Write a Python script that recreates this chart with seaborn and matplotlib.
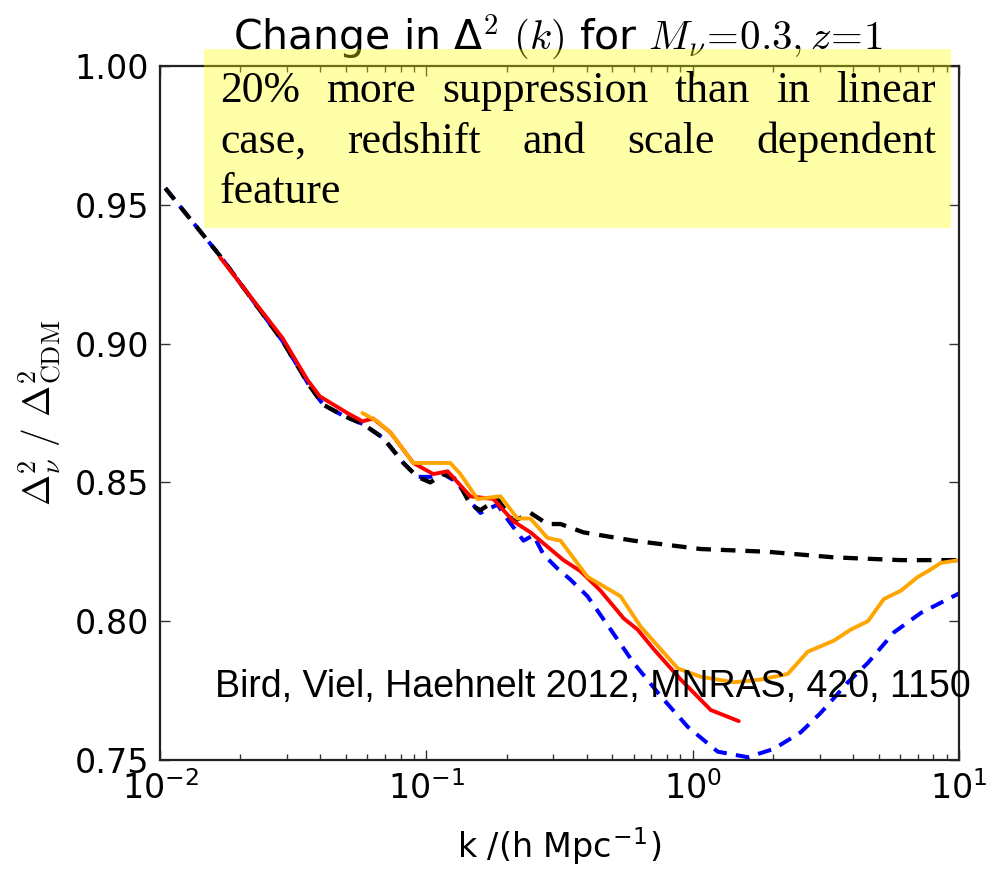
import matplotlib
matplotlib.use("Agg")
import matplotlib.pyplot as plt
import seaborn as sns
import pandas as pd
from matplotlib.patches import Rectangle
from matplotlib.ticker import FixedLocator, FormatStrFormatter

# ---------------- data ----------------
k_black = [0.01047, 0.0170, 0.0288, 0.0363, 0.0410, 0.0488, 0.0579, 0.0689, 0.0820,
           0.0925, 0.1035, 0.1159, 0.1306, 0.1462, 0.1596, 0.1849, 0.2123, 0.2460,
           0.2851, 0.3192, 0.389, 0.600, 1.072, 1.914, 3.39, 6.05, 10.0]
r_black = [0.956, 0.931, 0.901, 0.885, 0.878, 0.874, 0.871, 0.866, 0.857,
           0.852, 0.850, 0.853, 0.851, 0.842, 0.840, 0.844, 0.836, 0.839,
           0.835, 0.835, 0.832, 0.829, 0.826, 0.825, 0.823, 0.822, 0.822]

k_blue = [0.01047, 0.0170, 0.0288, 0.0363, 0.0410, 0.0488, 0.0579, 0.0689, 0.0820,
          0.0925, 0.1035, 0.1159, 0.1306, 0.1462, 0.1596, 0.1849, 0.2042, 0.2317,
          0.2523, 0.2754, 0.3105, 0.3475, 0.4027, 0.4920, 0.600, 0.7586, 0.9572,
          1.2417, 1.6106, 2.018, 2.547, 3.027, 3.828, 4.550, 5.702, 7.194, 10.0]
r_blue = [0.956, 0.931, 0.901, 0.885, 0.878, 0.874, 0.871, 0.866, 0.857,
          0.852, 0.852, 0.853, 0.850, 0.843, 0.839, 0.842, 0.836, 0.829,
          0.831, 0.824, 0.819, 0.815, 0.809, 0.797, 0.785, 0.773, 0.762,
          0.753, 0.751, 0.754, 0.760, 0.767, 0.778, 0.785, 0.796, 0.803, 0.810]

k_red = [0.01683, 0.02884, 0.03573, 0.03981, 0.05047, 0.05754, 0.0631, 0.07328,
         0.08933, 0.1062, 0.1202, 0.1462, 0.1786, 0.2123, 0.2460, 0.3273, 0.3793,
         0.4508, 0.5508, 0.6209, 0.7129, 0.9016, 1.1695, 1.4894]
r_red = [0.931, 0.902, 0.887, 0.881, 0.875, 0.872, 0.873, 0.868,
         0.857, 0.853, 0.854, 0.845, 0.844, 0.836, 0.832, 0.822, 0.818,
         0.811, 0.801, 0.797, 0.790, 0.779, 0.768, 0.764]

k_orange = [0.05754, 0.06546, 0.07328, 0.08933, 0.1230, 0.1343, 0.1556, 0.1897,
            0.2198, 0.2460, 0.2851, 0.3192, 0.4027, 0.5358, 0.6383, 0.8790, 1.0715,
            1.4256, 1.8030, 2.2751, 2.7040, 3.3884, 3.9264, 4.5499, 5.2240, 6.0534,
            7.0146, 7.6384, 8.5507, 10.0]
r_orange = [0.875, 0.872, 0.868, 0.857, 0.857, 0.853, 0.844, 0.845,
            0.837, 0.837, 0.830, 0.829, 0.816, 0.809, 0.798, 0.783, 0.780,
            0.778, 0.779, 0.781, 0.789, 0.793, 0.797, 0.800, 0.808, 0.811,
            0.816, 0.818, 0.821, 0.822]

y_ticks = [0.75, 0.80, 0.85, 0.90, 0.95, 1.00]
x_ticks = [0.01, 0.1, 1.0, 10.0]

title_text = "Change in Δ$^2$ $(k)$ for $M_\\nu\\!=\\!0.3,z\\!=\\!1$"
box_lines = ["20% more suppression than in linear",
             "case, redshift and scale dependent",
             "feature"]
cite_text = "Bird, Viel, Haehnelt 2012, MNRAS, 420, 1150"
x_label = "k /(h Mpc$^{\\mathdefault{-1}}$)"
y_label = "$\\Delta^2_\\nu\\ /\\ \\Delta^2_{\\rm CDM}$"

# ---------------- style ----------------
sns.set_style("ticks")
plt.rcParams['font.family'] = ['DejaVu Sans']
plt.rcParams['mathtext.fontset'] = 'cm'
for key in ["text.color", "axes.labelcolor", "xtick.color", "ytick.color",
            "axes.edgecolor"]:
    plt.rcParams[key] = "black"

fig = plt.figure(figsize=(10.06, 8.71), dpi=100)
ax = fig.add_axes([0.15905, 0.12744, 0.79423, 0.79679])

series = [
    (k_blue, r_blue, "#0000ff", 2.9, (3.4, 2.3)),
    (k_black, r_black, "#000000", 3.1, (3.4, 2.3)),
    (k_red, r_red, "#ff0000", 2.8, None),
    (k_orange, r_orange, "#ffa500", 2.8, None),
]
for kk, rr, col, lw, dash in series:
    df = pd.DataFrame({"k": kk, "r": rr})
    sns.lineplot(data=df, x="k", y="r", ax=ax, color=col, lw=lw,
                 sort=False, estimator=None, legend=False)
    ln = ax.lines[-1]
    if dash is not None:
        ln.set_linestyle((0, dash))

ax.set_xscale("log")
ax.set_xlim(0.01, 10.0)
ax.set_ylim(0.75, 1.00)
ax.yaxis.set_major_locator(FixedLocator(y_ticks))
ax.yaxis.set_major_formatter(FormatStrFormatter("%.2f"))
ax.xaxis.set_major_locator(FixedLocator(x_ticks))

ax.tick_params(which="both", direction="in", top=True, right=True,
               labelsize=24, width=1.0, color="#333333", labelcolor="black")
ax.tick_params(which="major", length=7, pad=8)
ax.tick_params(which="minor", length=4)
for s in ax.spines.values():
    s.set_linewidth(1.6)
    s.set_color("#222222")

ax.set_xlabel(x_label, fontsize=24, color="black")
ax.set_ylabel(y_label, fontsize=27, color="black")
ax.xaxis.set_label_coords(0.5, -0.095)
ax.xaxis.label.set_va("top")
ax.yaxis.set_label_coords(-0.12, 0.5)

# title
fig.text(558 / 1006, 1 - 50 / 871, title_text, ha="center", va="baseline",
         fontsize=29.5, color="black")

# yellow box
fig.patches.append(Rectangle((204 / 1006, 1 - 228 / 871), 747 / 1006, 179 / 871,
                             transform=fig.transFigure, facecolor=(1, 1, 0),
                             alpha=0.34, edgecolor="none", zorder=5))

fig.canvas.draw()
renderer = fig.canvas.get_renderer()
W = fig.bbox.width
box_kw = dict(fontsize=31.5, family="Liberation Serif", va="baseline",
              ha="left", zorder=6, color="black")
baselines = [1 - 102 / 871, 1 - 153 / 871, 1 - 203 / 871]
x0, x1 = 220 / 1006, 936 / 1006
for i, (line, yb) in enumerate(zip(box_lines, baselines)):
    words = line.split()
    if i == len(box_lines) - 1 or len(words) == 1:
        fig.text(x0, yb, line, **box_kw)
        continue
    texts = [fig.text(0, yb, w, **box_kw) for w in words]
    widths = [t.get_window_extent(renderer).width for t in texts]
    gap = ((x1 - x0) * W - sum(widths)) / (len(words) - 1)
    xp = x0 * W
    for t, w in zip(texts, widths):
        t.set_x(xp / W)
        xp += w + gap

# citation
fig.text(215 / 1006, 1 - 697 / 871, cite_text, family="Liberation Sans",
         fontsize=27, va="baseline", ha="left", zorder=6, color="black")

fig.savefig("out.png", dpi=100)
